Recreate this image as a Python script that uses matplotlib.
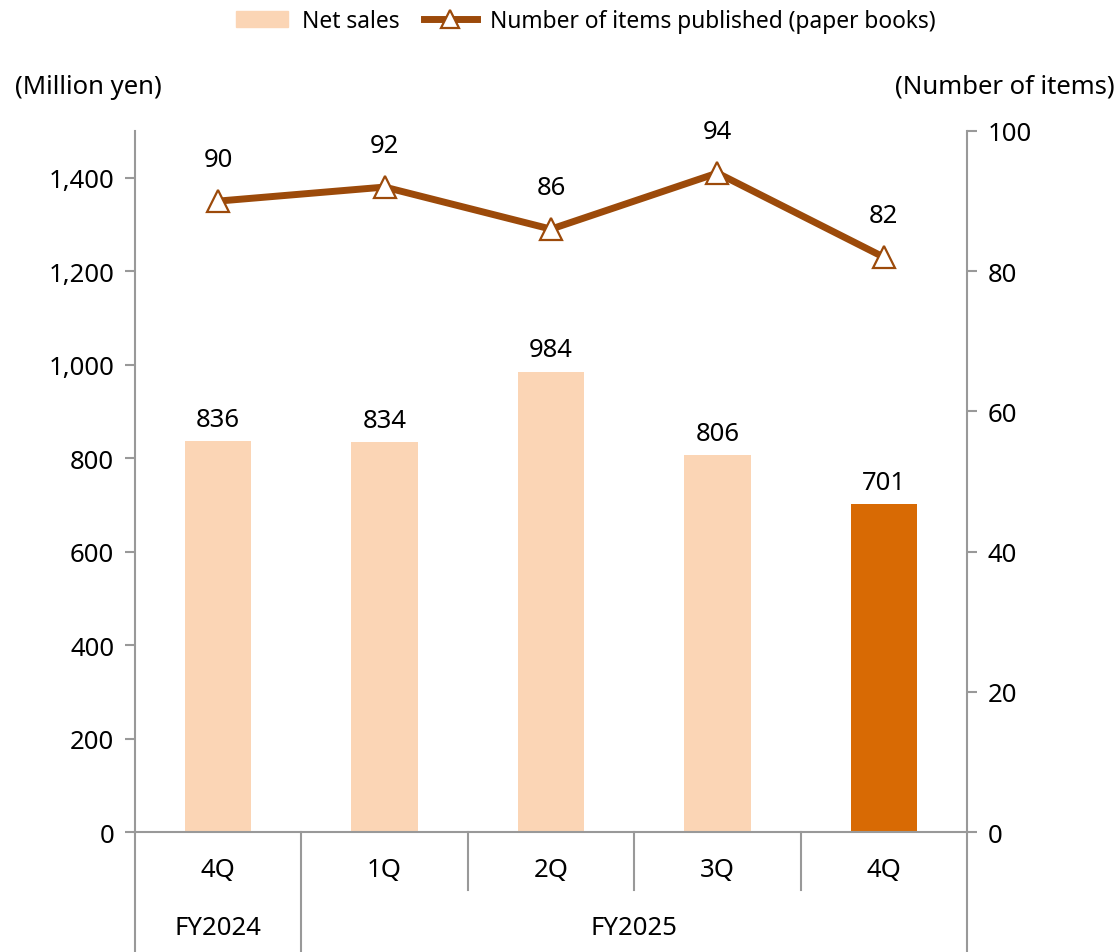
import matplotlib.pyplot as plt
from matplotlib.lines import Line2D
import matplotlib.transforms as mtransforms

plt.rcParams['font.family'] = ['Noto Sans', 'DejaVu Sans']

# Data
quarters = ['4Q', '1Q', '2Q', '3Q', '4Q']
fiscal_years = ['FY2024', 'FY2025']
net_sales = [836, 834, 984, 806, 701]
items_published = [90, 92, 86, 94, 82]

bar_light = '#FBD5B5'
bar_dark = '#D86A04'
line_col = '#9C4A0A'
grey = '#999999'
fs = 18.5

fig = plt.figure(figsize=(11.2, 9.53), dpi=100)
ax = fig.add_axes([0.1205, 0.1259, 0.7429, 0.7356])
ax2 = ax.twinx()

x = list(range(len(quarters)))
colors = [bar_light] * (len(x) - 1) + [bar_dark]
ax.bar(x, net_sales, width=0.4, color=colors, zorder=2)
for xi, v in zip(x, net_sales):
    ax.annotate(str(v), (xi, v), xytext=(0, 7), textcoords='offset points',
                ha='center', va='bottom', fontsize=fs)

ax2.plot(x, items_published, color=line_col, lw=5, marker='^', ms=16,
         mfc='white', mec=line_col, mew=1.6, zorder=3)
for xi, v in zip(x, items_published):
    ax2.annotate(str(v), (xi, v), xytext=(0, 21), textcoords='offset points',
                 ha='center', va='bottom', fontsize=fs)

ax.set_xlim(-0.5, len(x) - 0.5)
ax.set_ylim(0, 1500)
ax2.set_ylim(0, 100)
ax.set_yticks(range(0, 1401, 200))
ax.set_yticklabels([f'{v:,}' for v in range(0, 1401, 200)])
ax2.set_yticks(range(0, 101, 20))
ax.set_xticks([])

for a in (ax, ax2):
    for s in a.spines.values():
        s.set_color(grey)
        s.set_linewidth(1.5)
    a.spines['top'].set_visible(False)
    a.tick_params(axis='y', colors=grey, labelcolor='black', labelsize=fs,
                  length=7, width=1.5, pad=8)
ax.spines['right'].set_visible(False)
ax2.spines['left'].set_visible(False)
ax2.spines['bottom'].set_visible(False)

# category separators below the axis
tr = mtransforms.blended_transform_factory(ax.transData, ax.transAxes)
for sx in [-0.5, 0.5, 4.5]:
    ax.add_line(Line2D([sx, sx], [0, -0.1707], transform=tr, color=grey,
                       lw=1.5, clip_on=False))
for sx in [1.5, 2.5, 3.5]:
    ax.add_line(Line2D([sx, sx], [0, -0.0825], transform=tr, color=grey,
                       lw=1.5, clip_on=False))
for xi, q in zip(x, quarters):
    ax.text(xi, -0.054, q, transform=tr, ha='center', va='center', fontsize=fs)
ax.text(0, -0.136, fiscal_years[0], transform=tr, ha='center', va='center', fontsize=fs)
ax.text(2.5, -0.136, fiscal_years[1], transform=tr, ha='center', va='center', fontsize=fs)

# unit labels
fig.text(15 / 1120, 1 - 87 / 953, '(Million yen)', ha='left', va='center',
         fontsize=18.5)
fig.text(1115 / 1120, 1 - 87 / 953, '(Number of items)', ha='right', va='center',
         fontsize=18.5)

# legend
handles = [plt.Rectangle((0, 0), 1, 1, color=bar_light),
           Line2D([], [], color=line_col, lw=5, marker='^', ms=13,
                  mfc='white', mec=line_col, mew=1.6)]
fig.legend(handles, ['Net sales', 'Number of items published (paper books)'],
           loc='center', bbox_to_anchor=(0.523, 1 - 22 / 953), ncol=2,
           frameon=False, handlelength=2.3, handletextpad=0.6, columnspacing=1.1,
           prop={'size': 16.4})

fig.savefig('out.png', dpi=100)
